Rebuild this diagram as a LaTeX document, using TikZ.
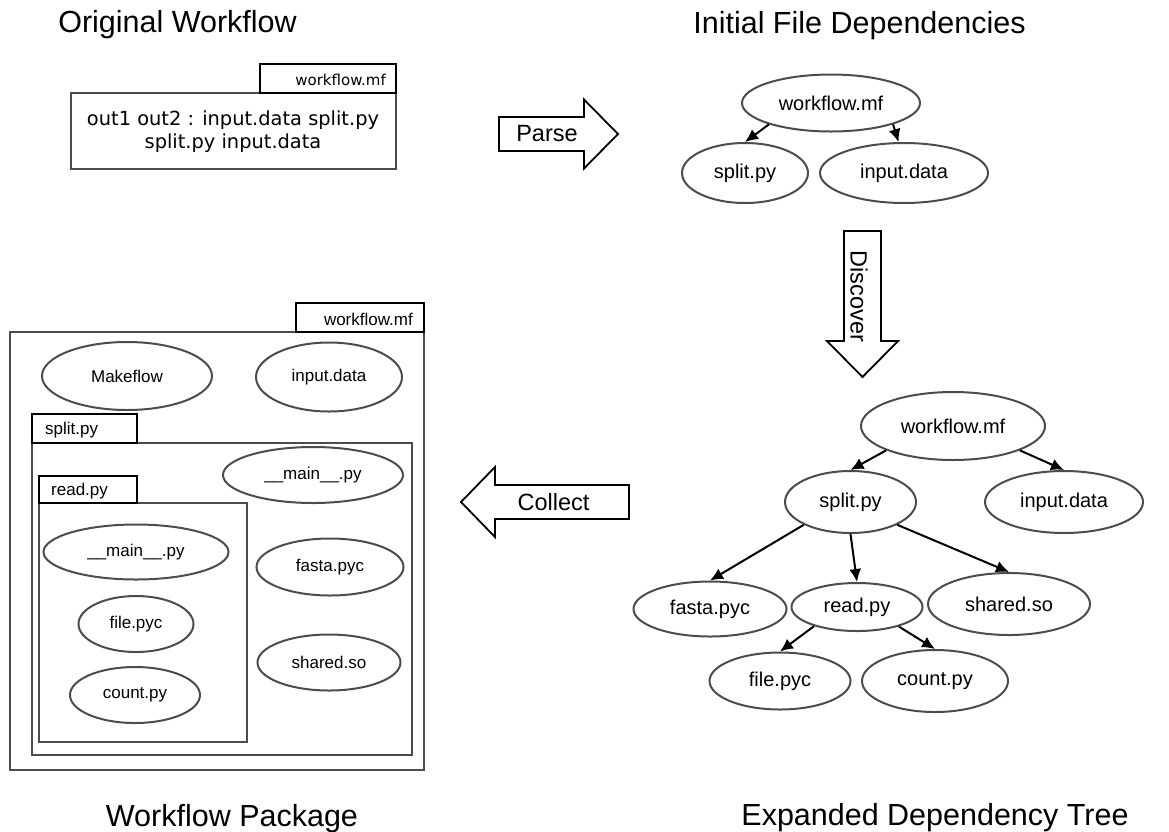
\documentclass[tikz,border=0pt]{standalone}
\usepackage{fontspec}
\setmainfont{Liberation Sans}
\newfontfamily\codefont{DejaVu Sans}
\usetikzlibrary{shapes.geometric,arrows.meta}

\colorlet{edgegray}{black!70}
\newcommand\treefont{\fontsize{20}{24}\selectfont}
\newcommand\pkgfont{\fontsize{17}{20}\selectfont}

\tikzset{
  file/.style={ellipse,draw=edgegray,line width=2pt,inner sep=0pt},
  dep/.style={-{Latex[length=13pt,width=12pt]},line width=2pt},
  title/.style={font=\fontsize{30.5}{36}\selectfont,anchor=base,inner sep=0pt},
  bigarrow/.style={draw=black,line width=1.8pt,line join=miter},
  steplabel/.style={font=\fontsize{23.5}{28}\selectfont,inner sep=0pt},
  boxline/.style={draw=edgegray,line width=2.2pt},
  tabline/.style={draw=black,line width=2.2pt},
  tablabel/.style={inner sep=0pt,font=\pkgfont}
}

\begin{document}
\begin{tikzpicture}[x=1pt,y=-1pt]
\useasboundingbox (0,0) rectangle (1169,831);

% titles
\node[title] (t-orig) at (177.5,32) {Original Workflow};
\node[title] (t-init) at (859.5,33) {Initial File Dependencies};
\node[title] (t-pkg) at (232,826) {Workflow Package};
\node[title] (t-tree) at (935,825) {Expanded Dependency Tree};

% original workflow file
\draw[boxline] (71,93) rectangle (396,169);
\draw[tabline] (260,64) rectangle (396,93);
\node[inner sep=0pt,anchor=base east,font=\codefont\fontsize{15}{18}\selectfont] (c-tab) at (386,85) {workflow.mf};
\node[inner sep=0pt,align=center,font=\codefont\fontsize{19.4}{23}\selectfont] (c-rule) at (233,131.5)
  {out1 out2 : input.data split.py\\split.py input.data};

% step arrows
\draw[bigarrow] (499,117) -- (584,117) -- (584,99.5) -- (618,134) -- (584,168.5) -- (584,151) -- (499,151) -- cycle;
\node[steplabel] (parse) at (547,134) {Parse};
\draw[bigarrow] (844,231) -- (881,231) -- (881,341) -- (898,341) -- (862.5,377) -- (827,341) -- (844,341) -- cycle;
\node[steplabel,rotate=-90] (discover) at (859,296.5) {Discover};
\draw[bigarrow] (629,485) -- (495,485) -- (495,467) -- (461,502) -- (495,537) -- (495,519) -- (629,519) -- cycle;
\node[steplabel] (collect) at (553.5,502) {Collect};

% initial dependencies
\node[file,minimum width=178pt,minimum height=57pt,font=\treefont] (i-wf) at (831,103) {workflow.mf};
\node[file,minimum width=126pt,minimum height=60pt,font=\treefont] (i-split) at (745,173) {split.py};
\node[file,minimum width=168pt,minimum height=60pt,font=\treefont] (i-input) at (904,173) {input.data};
\draw[dep] (i-wf.199) -- (i-split.north);
\draw[dep] (i-wf.341) -- (i-input.100);

% expanded dependency tree
\node[file,minimum width=184pt,minimum height=68pt,font=\treefont] (e-wf) at (953,426) {workflow.mf};
\node[file,minimum width=131pt,minimum height=62pt,font=\treefont] (e-split) at (850.5,502) {split.py};
\node[file,minimum width=158pt,minimum height=62pt,font=\treefont] (e-input) at (1064,502) {input.data};
\node[file,minimum width=153pt,minimum height=55pt,font=\treefont] (e-fasta) at (710,609) {fasta.pyc};
\node[file,minimum width=131pt,minimum height=48pt,font=\treefont] (e-read) at (857,607) {read.py};
\node[file,minimum width=162pt,minimum height=62pt,font=\treefont] (e-shared) at (1009,604) {shared.so};
\node[file,minimum width=141pt,minimum height=57pt,font=\treefont] (e-file) at (780,681) {file.pyc};
\node[file,minimum width=146pt,minimum height=62pt,font=\treefont] (e-count) at (935,681) {count.py};
\draw[dep] (e-wf.200) -- (e-split.north);
\draw[dep] (e-wf.340) -- (e-input.north);
\draw[dep] (e-split.206) -- (e-fasta.north);
\draw[dep] (e-split.south) -- (e-read.north);
\draw[dep] (e-split.334) -- (e-shared.north);
\draw[dep] (e-read.204) -- (e-file.north);
\draw[dep] (e-read.335) -- (e-count.north);

% workflow package
\draw[boxline] (10,332) rectangle (424,770);
\draw[tabline] (296,303) rectangle (424,332);
\node[tablabel,anchor=base east] (p-tab) at (413,325) {workflow.mf};
\node[file,minimum width=170pt,minimum height=68pt,font=\pkgfont] (p-make) at (127,376) {Makeflow};
\node[file,minimum width=146pt,minimum height=69pt,font=\pkgfont] (p-input) at (329,377) {input.data};

\draw[boxline] (32,443) rectangle (412,755);
\draw[tabline] (32,414) rectangle (137,443);
\node[tablabel,anchor=base west] (s-tab) at (45,434) {split.py};
\node[file,minimum width=180pt,minimum height=56pt,font=\pkgfont] (s-main) at (313,475) {\_\_main\_\_.py};
\node[file,minimum width=147pt,minimum height=57pt,font=\pkgfont] (s-fasta) at (330,567) {fasta.pyc};
\node[file,minimum width=143pt,minimum height=56pt,font=\pkgfont] (s-shared) at (329,662.5) {shared.so};

\draw[boxline] (39,503) rectangle (247,742);
\draw[tabline] (39,476) rectangle (137,503);
\node[tablabel,anchor=base west] (r-tab) at (51,495) {read.py};
\node[file,minimum width=185pt,minimum height=55pt,font=\pkgfont] (r-main) at (136,552) {\_\_main\_\_.py};
\node[file,minimum width=115pt,minimum height=56pt,font=\pkgfont] (r-file) at (136,624) {file.pyc};
\node[file,minimum width=130pt,minimum height=56pt,font=\pkgfont] (r-count) at (135,695) {count.py};
\end{tikzpicture}
\end{document}
